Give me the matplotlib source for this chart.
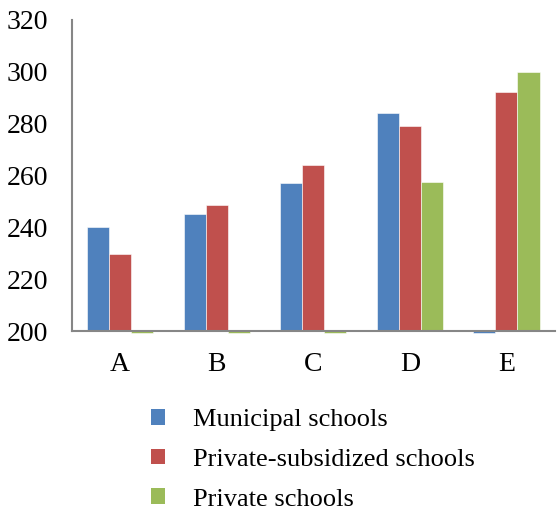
import matplotlib.pyplot as plt
from matplotlib.patches import Patch
import numpy as np

categories = ["A", "B", "C", "D", "E"]
series_names = ["Municipal schools", "Private-subsidized schools", "Private schools"]
municipal = [240, 245, 257, 284, 199.4]
subsidized = [229.7, 248.8, 264, 279, 292.2]
private = [199.4, 199.4, 199.4, 257.6, 300]
colors = ["#4F81BD", "#C0504D", "#9BBB59"]

base = 200
plt.rc('font', **{'size': 19, 'family': 'Liberation Serif'})
fig = plt.figure(figsize=(5.57, 5.12), dpi=100)
ax = fig.add_axes([0.129, 0.3535, 0.867, 0.6075])

x = np.arange(len(categories))
width = 0.228
for i, (vals, c) in enumerate(zip([municipal, subsidized, private], colors)):
    vals = np.array(vals)
    ax.bar(x + (i - 1) * width, vals - base, bottom=base, width=width,
           color=c, edgecolor="white", linewidth=0.4, clip_on=False, zorder=1)

ax.set_xlim(-0.5, len(categories) - 0.5)
ax.set_ylim(200, 320)
ax.set_yticks(np.arange(200, 321, 20))
ax.set_xticks(x)
ax.set_xticklabels(categories)
ax.tick_params(axis='both', length=0, labelsize=20)
ax.tick_params(axis='y', pad=17)
ax.tick_params(axis='x', pad=15)
for s in ['top', 'right']:
    ax.spines[s].set_visible(False)
for s in ['left', 'bottom']:
    ax.spines[s].set_color("#868686")
    ax.spines[s].set_linewidth(1.5)
    ax.spines[s].set_zorder(3)

handles = [Patch(facecolor=c, edgecolor="none") for c in colors]
fig.legend(handles, series_names, loc='upper left', bbox_to_anchor=(0.252, 0.222),
           frameon=False, fontsize=19, handlelength=0.55, handleheight=0.55,
           handletextpad=1.05, labelspacing=0.66, borderaxespad=0)

plt.savefig("out.png", dpi=100)
